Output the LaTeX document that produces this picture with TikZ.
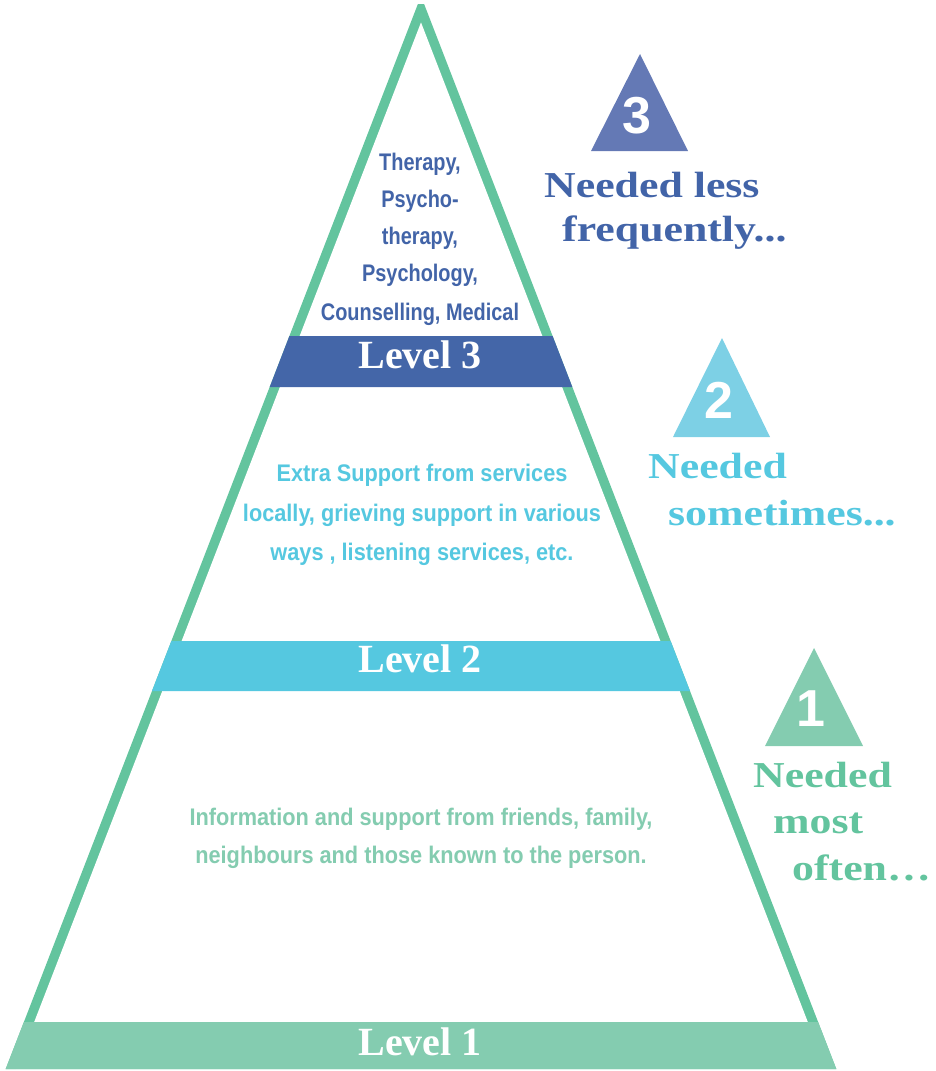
\documentclass[tikz,border=0pt]{standalone}
\usepackage{fontspec}
\setmainfont{Liberation Serif}
\newfontfamily\sidefont[FakeStretch=1.2]{Liberation Serif}
\newfontfamily\levelfont{Liberation Serif}
\newfontfamily\innerA[FakeStretch=0.83]{Liberation Sans}
\newfontfamily\innerB[FakeStretch=0.905]{Liberation Sans}
\newfontfamily\digitfont{Liberation Sans}
\definecolor{pyrgreen}{RGB}{99,196,158}
\definecolor{bandone}{RGB}{132,204,176}
\definecolor{bandtwo}{RGB}{85,200,224}
\definecolor{bandthree}{RGB}{68,102,168}
\definecolor{trithree}{RGB}{100,121,181}
\definecolor{tritwo}{RGB}{125,208,229}
\definecolor{trione}{RGB}{132,204,176}
\definecolor{txtthree}{RGB}{66,100,168}
\definecolor{txttwo}{RGB}{85,200,224}
\definecolor{txtoneside}{RGB}{99,196,158}
\definecolor{txtone}{RGB}{132,204,176}
\begin{document}
\begin{tikzpicture}[x=1pt,y=-1pt,
  sidetxt/.style={anchor=base west,inner sep=0pt,font=\sidefont\bfseries\fontsize{36.5}{43}\selectfont},
  leveltxt/.style={anchor=base,inner sep=0pt,text=white,font=\levelfont\bfseries\fontsize{40}{48}\selectfont},
  digit/.style={anchor=center,inner sep=0pt,text=white,font=\digitfont\bfseries\fontsize{52}{60}\selectfont},
  innerthree/.style={anchor=base,inner sep=0pt,text=txtthree,font=\innerA\bfseries\fontsize{24}{28}\selectfont},
  innertxt/.style={anchor=base,inner sep=0pt,font=\innerB\bfseries\fontsize{24}{28}\selectfont}]
\useasboundingbox (0,0) rectangle (936,1071);
% pyramid outline
\fill[pyrgreen] (417.9,4) -- (424.1,4) -- (836.3,1069) -- (5.7,1069) -- cycle;
\fill[white] (421,22.4) -- (826,1069) -- (16,1069) -- cycle;
% bands
\fill[bandthree] (289.4,336) -- (552.6,336) -- (572.3,387) -- (269.7,387) -- cycle;
\fill[bandtwo] (171.4,641) -- (670.6,641) -- (690,691) -- (152,691) -- cycle;
\fill[bandone] (23.9,1022) -- (818.1,1022) -- (836.3,1069) -- (5.7,1069) -- cycle;
% level labels
\node[leveltxt] (lv3) at (420,368.5) {Level 3};
\node[leveltxt] (lv2) at (420,672.5) {Level 2};
\node[leveltxt] (lv1) at (420,1055.5) {Level 1};
% inner texts level 3
\node[innerthree] (a1) at (420,170.5) {Therapy,};
\node[innerthree] (a2) at (420,207) {Psycho-};
\node[innerthree] (a3) at (420,244) {therapy,};
\node[innerthree] (a4) at (420,281) {Psychology,};
\node[innerthree] (a5) at (420,320) {Counselling, Medical};
% inner texts level 2
\node[innertxt,text=txttwo] (b1) at (422,481.5) {Extra Support from services};
\node[innertxt,text=txttwo] (b2) at (422,521.5) {locally, grieving support in various};
\node[innertxt,text=txttwo] (b3) at (422,560) {ways , listening services, etc.};
% inner texts level 1
\node[innertxt,text=txtone] (c1) at (421,825) {Information and support from friends, family,};
\node[innertxt,text=txtone] (c2) at (421,863) {neighbours and those known to the person.};
% side triangles
\fill[trithree] (640,54) -- (688,151) -- (591,151) -- cycle;
\node[digit] (d3) at (637,116) {3};
\fill[tritwo] (722,338) -- (770,437) -- (673,437) -- cycle;
\node[digit] (d2) at (718.5,400) {2};
\fill[trione] (814,648) -- (863,746) -- (765,746) -- cycle;
\node[digit] (d1) at (810.5,709) {1};
% side texts
\node[sidetxt,text=txtthree] (s31) at (544,197) {Needed less};
\node[sidetxt,text=txtthree] (s32) at (562,241) {frequently...};
\node[sidetxt,text=txttwo] (s21) at (648,478) {Needed};
\node[sidetxt,text=txttwo] (s22) at (668,525) {sometimes...};
\node[sidetxt,text=txtoneside] (s11) at (753,787) {Needed};
\node[sidetxt,text=txtoneside] (s12) at (773,833) {most};
\node[sidetxt,text=txtoneside] (s13) at (792,880) {often\ldots};
\end{tikzpicture}
\end{document}
